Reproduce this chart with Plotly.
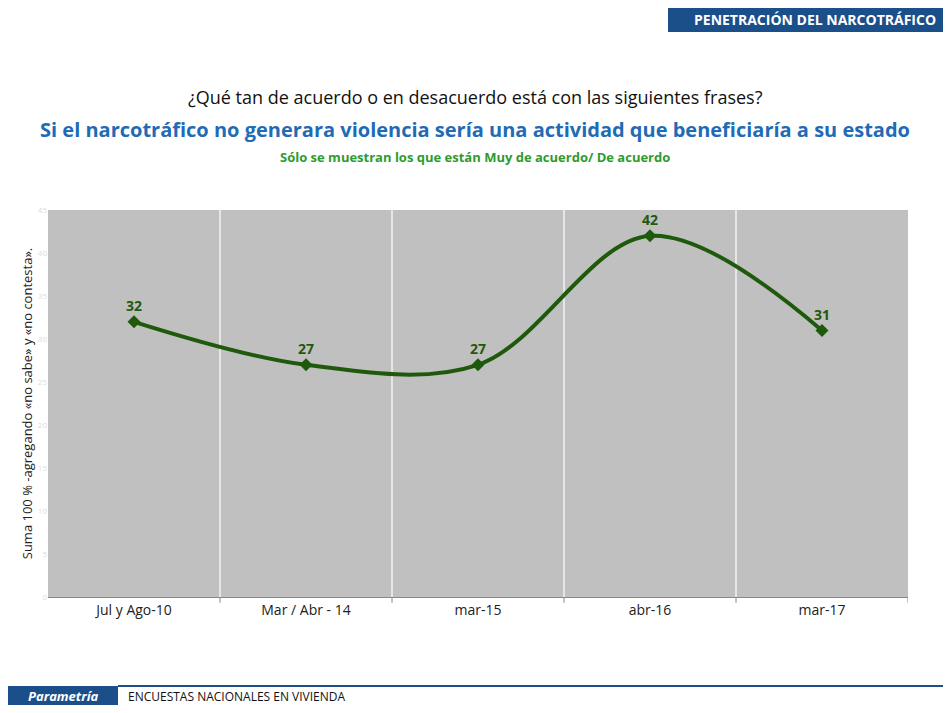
import plotly.graph_objects as go

categories = ["Jul y Ago-10", "Mar / Abr - 14", "mar-15", "abr-16", "mar-17"]
values = [32, 27, 27, 42, 31]
y_ticks = [0, 5, 10, 15, 20, 25, 30, 35, 40, 45]
xpos = list(range(len(categories)))
bounds = [0.5, 1.5, 2.5, 3.5]

fig = go.Figure()
fig.add_trace(go.Scatter(
    x=xpos, y=values, mode="lines+markers+text",
    line=dict(color="#1F5A0C", width=4, shape="spline", smoothing=1.0),
    marker=dict(symbol="diamond", size=10, color="#1F5A0C"),
    text=[str(v) for v in values], textposition="top center",
    textfont=dict(family="Open Sans", size=14, color="#1F5A0C", weight="bold"),
    cliponaxis=False, showlegend=False))

for b in bounds:
    fig.add_shape(type="line", xref="x", yref="paper", x0=b, x1=b, y0=0, y1=1,
                  line=dict(color="white", width=1.2), layer="below")
    fig.add_shape(type="line", xref="x", yref="paper", x0=b, x1=b, y0=0, y1=-0.015,
                  line=dict(color="#888", width=1))
fig.add_shape(type="line", xref="x", yref="paper", x0=4.5, x1=4.5, y0=0, y1=-0.015,
              line=dict(color="#888", width=1))

fig.update_layout(
    width=935, height=697, paper_bgcolor="white", plot_bgcolor="#C0C0C0",
    margin=dict(l=40, r=35, t=202, b=108),
    font=dict(family="Open Sans"),
    xaxis=dict(range=[-0.5, 4.5], tickvals=xpos, ticktext=categories, showgrid=False,
               zeroline=False, ticks="", tickfont=dict(size=14, color="#222"),
               showline=True, linecolor="#888"),
    yaxis=dict(range=[0, 45], tickvals=y_ticks, showgrid=False, zeroline=False,
               tickfont=dict(size=8, color="#ddd"),
               title=dict(text="Suma 100 % -agregando «no sabe» y «no contesta».",
                          font=dict(size=13, color="#222"), standoff=2)),
)
H = 387.0
def py(pix):
    return (597 - pix) / H
def px(pix):
    return (pix - 48) / 860.0
fig.add_shape(type="rect", xref="paper", yref="paper", x0=px(668), x1=px(951), y0=py(32), y1=py(8),
              fillcolor="#1B4F8A", line=dict(width=0), layer="below")
fig.add_shape(type="rect", xref="paper", yref="paper", x0=px(8), x1=px(118), y0=py(705), y1=py(686),
              fillcolor="#1B4F8A", line=dict(width=0), layer="below")
fig.add_shape(type="line", xref="paper", yref="paper", x0=px(118), x1=px(951), y0=py(686), y1=py(686),
              line=dict(color="#1B4F8A", width=2))

ann = [
    (938, 20, "PENETRACIÓN DEL NARCOTRÁFICO", 14, "white", True, "right"),
    (475, 97, "¿Qué tan de acuerdo o en desacuerdo está con las siguientes frases?", 18, "#111", False, "center"),
    (475, 130, "Si el narcotráfico no generara violencia sería una actividad que beneficiaría a su estado", 20, "#1F6BB5", True, "center"),
    (475, 157, "Sólo se muestran los que están Muy de acuerdo/ De acuerdo", 13, "#2E9B2E", True, "center"),
    (63, 696, "<i>Parametría</i>", 13, "white", True, "center"),
    (126, 696, "ENCUESTAS NACIONALES EN VIVIENDA", 12, "#111", False, "left"),
]
for x, y, t, s, c, b, al in ann:
    fig.add_annotation(xref="paper", yref="paper", x=px(x), y=py(y), text=t, showarrow=False,
                       xanchor=al, yanchor="middle",
                       font=dict(size=s, color=c, weight="bold" if b else "normal"))

fig.write_html("out.html")
